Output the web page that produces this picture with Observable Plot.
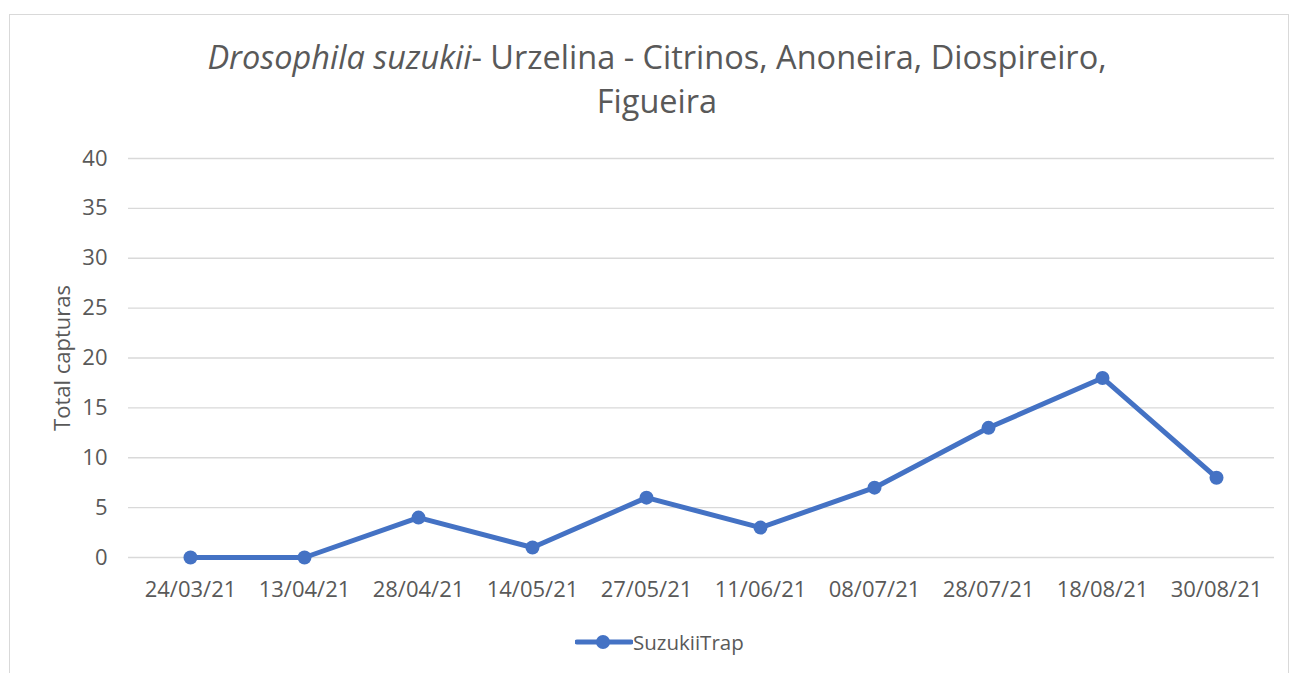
<!DOCTYPE html>
<html><head><meta charset="utf-8">
<script src="https://cdn.jsdelivr.net/npm/d3@7"></script>
<script src="https://cdn.jsdelivr.net/npm/@observablehq/plot@0.6"></script>
<style>
body{margin:0;background:#fff;font-family:"Open Sans",sans-serif;}
#frame{position:absolute;left:9px;top:14px;width:1280px;height:700px;border:1px solid #d9d9d9;box-sizing:border-box;}
#title{position:absolute;left:0;width:1314px;top:35.4px;text-align:center;font-size:32.5px;line-height:44px;color:#595959;white-space:nowrap;}
#chart{position:absolute;left:0;top:130px;}
#legend{position:absolute;top:627px;left:575px;display:flex;align-items:center;font-size:20.5px;color:#595959;}
</style>
</head><body>
<div id="frame"></div>
<div id="title"><i>Drosophila suzukii</i>- Urzelina - Citrinos, Anoneira, Diospireiro,<br>Figueira</div>
<div id="chart"></div>
<div id="legend"><svg width="58" height="30"><line x1="2" y1="15" x2="56" y2="15" stroke="#4472C4" stroke-width="5" stroke-linecap="round"/><circle cx="28" cy="15" r="7" fill="#4472C4"/></svg><span>SuzukiiTrap</span></div>
<script>
const dates = ["24/03/21","13/04/21","28/04/21","14/05/21","27/05/21","11/06/21","08/07/21","28/07/21","18/08/21","30/08/21"];
const captures = [0,0,4,1,6,3,7,13,18,8];
const yTicks = [0,5,10,15,20,25,30,35,40];
const seriesName = "SuzukiiTrap";

const data = dates.map((d,i)=>({date:d, value:captures[i]}));

const chart = Plot.plot({
  width:1291, height:480,
  marginLeft:128, marginRight:17, marginTop:28, marginBottom:53,
  style:{fontFamily:"Open Sans", fontSize:"22px", color:"#595959", background:"transparent"},
  x:{type:"point", domain:dates, range:[131,1274], padding:0.5},
  y:{domain:[0,40]},
  marks:[
    Plot.ruleY(yTicks,{stroke:"#d9d9d9", strokeWidth:1.3}),
    Plot.axisY({ticks:yTicks, tickSize:0, tickPadding:21, label:"Total capturas", labelAnchor:"center", labelArrow:"none", labelOffset:74, fill:"#595959"}),
    Plot.axisX({tickSize:0, tickPadding:24, label:null, fill:"#595959"}),
    Plot.line(data,{x:"date", y:"value", stroke:"#4472C4", strokeWidth:5, strokeLinejoin:"round"}),
    Plot.dot(data,{x:"date", y:"value", r:7, fill:"#4472C4"})
  ]
});
document.getElementById("chart").appendChild(chart);
</script>
</body></html>
